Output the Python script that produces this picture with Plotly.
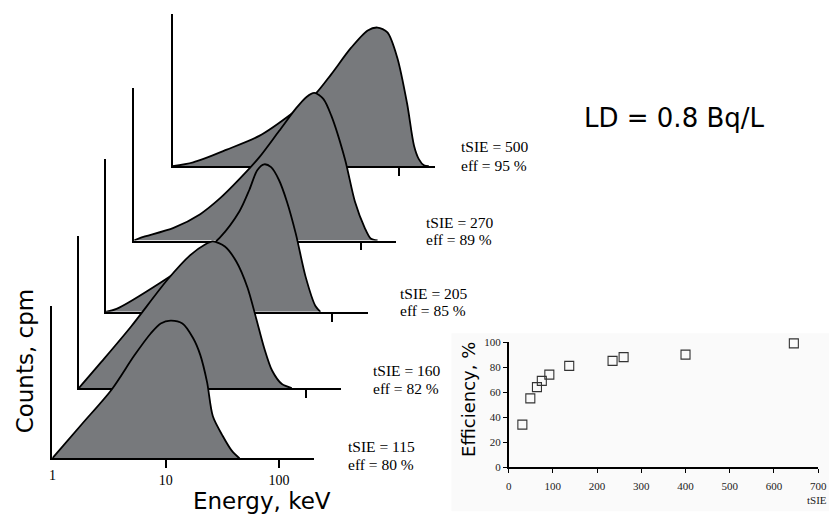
import plotly.graph_objects as go

W, H = 838, 524

# ---------------- data ----------------
tsie = [115, 160, 205, 270, 500]
eff_pct = [80, 82, 85, 89, 95]

energy_115 = [1, 1.82, 3.32, 5.27, 7.41, 9.05, 11.05, 14.06, 17.5, 20.2, 23.2, 26.1, 31.9, 38.3, 44.9]
counts_115 = [0, 22.4, 44.9, 67.3, 82.1, 88.5, 90.4, 88.5, 78.8, 67.9, 50, 27.6, 14.7, 5.1, 0]

energy_160 = [1, 1.585, 2.89, 6.06, 9.61, 12.97, 15.2, 19.4, 24.6, 30.7, 36.7, 43.1, 50.6, 61.8, 75.5]
counts_160 = [0, 17.3, 40.4, 71.2, 87.2, 94.2, 96.2, 92.9, 82.7, 66.0, 45.5, 26.3, 11.5, 2.6, 0]

energy_205 = [1, 1.25, 3.07, 5.94, 10.2, 15.2, 18.6, 21.8, 25.1, 28.9, 33.9, 39.8, 47.7, 58.2, 71.1, 78.7]
counts_205 = [0, 1.9, 19.2, 34, 48.7, 66, 80.1, 92.9, 96.8, 94.9, 86.5, 72.4, 51.3, 23.1, 3.8, 0]

energy_270 = [1, 1.15, 2.23, 3.83, 5.71, 8.52, 12.7, 19.0, 26.7, 33.2, 39.0, 46.7, 54.8, 72.6, 88.7, 108.3, 122.2, 140.6]
counts_270 = [0, 1.9, 8.3, 17.3, 27.6, 40.4, 54.5, 71.8, 86.5, 94.2, 96.8, 92.9, 82.1, 53.2, 25.6, 8.3, 1.3, 0]

energy_500 = [1, 1.52, 3.01, 5.82, 11.3, 18.2, 25.1, 37.5, 52.7, 64.4, 78.7, 96.1, 117.4, 135, 149.3, 165, 182.4]
counts_500 = [0, 2.6, 10.9, 19.9, 34.6, 47.4, 60.3, 77.6, 89.1, 91, 87.8, 71.2, 41, 13.5, 4.5, 0.6, 0]

cal_tsie = [31, 49, 64, 75, 92, 137, 235, 260, 400, 645]
cal_eff = [34, 55, 64, 69, 74, 81, 85, 88, 90, 99]

spec_tickvals = [10, 100]
spec_ticktext = ["10", "100"]
inset_xticks = [0, 100, 200, 300, 400, 500, 600, 700]
inset_yticks = [0, 20, 40, 60, 80, 100]

# ---------------- layout geometry (pixels) ----------------
spectra = {
    115: (energy_115, counts_115),
    160: (energy_160, counts_160),
    205: (energy_205, counts_205),
    270: (energy_270, counts_270),
    500: (energy_500, counts_500),
}
panel_origin = {115: (50, 463), 160: (77, 391), 205: (104, 313), 270: (133, 240), 500: (172, 164)}
label_pos = {115: (348, 451, 469), 160: (373, 373, 391), 205: (401, 294, 312),
             270: (427, 222, 239), 500: (463, 144, 163)}
PANEL_W = 266
PANEL_H = 156
PX_PER_DECADE = 115.0
FILL = "rgb(119,121,124)"
SERIF = "Liberation Serif"
SANS = "DejaVu Sans"


def px(x):
    return x / W


def py(y):
    return 1 - y / H


fig = go.Figure()
layout = {}
annotations = []

order = [500, 270, 205, 160, 115]  # back to front
for i, t in enumerate(order, start=1):
    e, c = spectra[t]
    sfx = "" if i == 1 else str(i)
    fig.add_trace(go.Scatter(
        x=e, y=c, mode="lines", line=dict(color="black", width=1.8, shape="spline", smoothing=0.8),
        fill="tozeroy", fillcolor=FILL, xaxis="x" + sfx, yaxis="y" + sfx,
        hoverinfo="skip", showlegend=False))
    x0, b = panel_origin[t]
    front = (t == 115)
    layout["xaxis" + sfx] = dict(
        domain=[px(x0), px(x0 + PANEL_W)], type="log",
        range=[0, PANEL_W / PX_PER_DECADE], anchor="y" + sfx,
        showline=True, linecolor="black", linewidth=1.6,
        ticks="outside", tickvals=spec_tickvals, ticktext=spec_ticktext,
        ticklen=8, tickwidth=2, tickcolor="black",
        showticklabels=front, tickfont=dict(family=SERIF, size=14, color="black"),
        showgrid=False, zeroline=False, fixedrange=True)
    layout["yaxis" + sfx] = dict(
        domain=[py(b), py(b - PANEL_H)], range=[0, 100], anchor="x" + sfx,
        showline=True, linecolor="black", linewidth=1.6,
        ticks="", showticklabels=False, showgrid=False, zeroline=False, fixedrange=True)
    lx, ly1, ly2 = label_pos[t]
    k = tsie.index(t)
    annotations.append(dict(text=f"tSIE = {tsie[k]}", x=px(lx), y=py(ly1), xref="paper", yref="paper",
                            xanchor="left", yanchor="middle", showarrow=False,
                            font=dict(family=SERIF, size=15.5, color="black")))
    annotations.append(dict(text=f"eff = {eff_pct[k]} %", x=px(lx), y=py(ly2), xref="paper", yref="paper",
                            xanchor="left", yanchor="middle", showarrow=False,
                            font=dict(family=SERIF, size=15.5, color="black")))

# "1" tick label on the front spectrum axis
annotations.append(dict(text="1", x=0, xref="x5", y=py(480), yref="paper", showarrow=False,
                        xanchor="center", yanchor="middle", font=dict(family=SERIF, size=14, color="black")))

# inset calibration plot
fig.add_trace(go.Scatter(
    x=cal_tsie, y=cal_eff, mode="markers", cliponaxis=False,
    marker=dict(symbol="square-open", size=9, color="#333333", line=dict(width=1.1)),
    xaxis="x6", yaxis="y6", hoverinfo="skip", showlegend=False))
layout["xaxis6"] = dict(domain=[px(513), px(827)], range=[0, 700], anchor="y6",
                        tickvals=inset_xticks, ticks="outside", ticklen=4, tickwidth=1.3, tickcolor="black",
                        showline=True, linecolor="black", linewidth=1.5, ticklabelstandoff=4,
                        tickfont=dict(family=SERIF, size=11, color="#222"),
                        showgrid=False, zeroline=False, fixedrange=True)
layout["yaxis6"] = dict(domain=[py(472), py(344)], range=[0, 100], anchor="x6",
                        tickvals=inset_yticks, ticks="outside", ticklen=4, tickwidth=1.3, tickcolor="black",
                        showline=True, linecolor="black", linewidth=1.5,
                        tickfont=dict(family=SERIF, size=11, color="#222"),
                        showgrid=False, zeroline=False, fixedrange=True)

big = [
    ("Counts, cpm", 22, 363, -90, SANS, 23),
    ("Energy, keV", 263, 507, 0, SANS, 23),
    ("LD = 0.8 Bq/L", 681, 115, 0, SANS, 26),
    ("Efficiency, %", 473, 403, -90, SANS, 18),
    ("tSIE", 826, 506, 0, SERIF, 11),
]
for text, x, y, ang, fam, size in big:
    annotations.append(dict(text=text, x=px(x), y=py(y), xref="paper", yref="paper", textangle=ang,
                            xanchor="center", yanchor="middle", showarrow=False,
                            font=dict(family=fam, size=size, color="black" if size > 12 else "#222")))

fig.update_layout(
    width=W, height=H, margin=dict(l=0, r=0, t=0, b=0),
    paper_bgcolor="white", plot_bgcolor="rgba(0,0,0,0)",
    annotations=annotations,
    shapes=[dict(type="rect", xref="paper", yref="paper", x0=px(455), x1=1, y0=py(517), y1=py(335),
                 fillcolor="#fafafa", line=dict(width=0), layer="below")],
    **layout)

fig.write_html("out.html")
